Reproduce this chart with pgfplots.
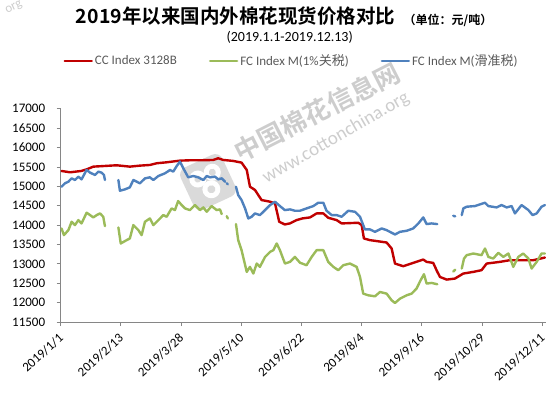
\documentclass[border=0pt]{standalone}
\usepackage{fontspec}
\setmainfont{Carlito}
\newfontfamily\cjk{Noto Sans CJK SC}
\newfontfamily\cjkb{Noto Sans CJK SC Bold}
\usepackage{pgfplots}
\pgfplotsset{compat=1.18}
\usepackage{pgfplotstable}
\definecolor{ccred}{RGB}{192,0,0}
\definecolor{fcgreen}{RGB}{155,187,89}
\definecolor{fcblue}{RGB}{79,129,189}
\definecolor{axgray}{RGB}{134,134,134}
\definecolor{legtext}{RGB}{89,89,89}
\definecolor{wm}{RGB}{205,205,205}
\definecolor{wmlogo}{RGB}{218,218,218}

\pgfplotstableread{
day val
0.6 15396
6.7 15362
14.7 15396
18.7 15440
23.3 15508
39.9 15543
44.9 15525
49.4 15508
56.6 15534
63.7 15551
68.6 15595
75.7 15620
85.2 15663
92.2 15672
99.3 15672
109.0 15680
112.5 15724
116.2 15680
123.3 15655
129.2 15612
132.9 15422
135.2 14991
138.8 14905
143.5 14646
149.6 14603
153.1 14560
156.1 14086
160.1 14017
163.7 14043
168.5 14129
172.7 14172
178.1 14198
182.8 14301
187.6 14301
191.1 14189
197.1 14129
200.7 14043
212.6 14060
215.0 14000
216.6 13655
220.9 13612
232.8 13551
236.4 13396
238.8 13008
244.7 12939
251.8 13025
259.0 13111
261.4 13051
266.1 13025
268.5 12836
270.9 12663
275.7 12594
281.6 12620
287.6 12750
294.7 12793
300.6 12836
304.3 13008
313.7 13051
320.9 13094
328.0 13094
337.6 13094
345.9 13163
}\redtab

\pgfplotstableread{
day val
0.6 14991
3.0 15077
5.5 15120
7.8 15206
10.2 15163
12.6 15250
14.9 15180
18.5 15422
21.0 15353
24.5 15293
26.9 15379
29.2 15353
30.9 15293
31.6 15163
35 nan
41.2 15163
42.3 14887
45.9 14922
49.4 14974
51.9 15163
54.3 15120
56.6 15077
60.2 15206
63.7 15232
66.2 15163
69.8 15267
74.5 15336
78.1 15422
80.4 15379
82.9 15525
85.2 15637
87.6 15465
91.1 15232
94.7 15267
98.2 15232
101.9 15163
104.3 15267
106.6 15232
110.2 15250
112.5 15180
115.0 15206
117.4 15120
118.0 nan
118.6 15080
119.4 15050
120 nan
125.2 14991
126.8 14775
129.2 14646
131.7 14430
134.0 14172
136.4 14215
138.8 14301
142.3 14258
146.0 14387
149.6 14517
153.1 14603
156.6 14491
160.1 14387
163.8 14405
167.3 14370
170.9 14370
175.6 14430
180.5 14491
184.0 14577
187.6 14577
189.9 14370
193.6 14258
197.1 14258
200.7 14215
205.4 14370
210.2 14344
213.8 14215
217.3 13888
220.9 13888
224.5 13827
229.3 13913
232.8 13870
238.8 13758
242.4 13827
247.1 13853
251.8 13913
255.5 14043
259.0 14198
261.4 14026
264.9 14043
269.0 14026
275 nan
280.4 14240
281.8 14225
283 nan
286.5 14258
287.6 14430
290.0 14474
295.9 14491
303.1 14577
305.5 14491
311.4 14456
314.9 14517
318.6 14456
322.1 14491
324.5 14301
329.2 14517
334.1 14387
337.1 14258
340.0 14301
343.5 14474
345.9 14517
}\bluetab

\pgfplotstableread{
day val
0.6 13913
2.3 13741
5.5 13870
7.8 14086
10.2 14000
12.6 14129
14.9 14043
18.5 14319
21.0 14258
23.3 14198
25.7 14258
28.1 14301
30.4 14215
31.6 13974
35 nan
41.2 13939
42.9 13526
47.1 13612
49.4 13655
51.9 14000
55.5 13870
57.8 13741
60.2 14086
63.7 14172
66.2 14000
69.8 14129
73.3 14258
75.7 14215
79.2 14430
81.6 14387
83.9 14620
86.4 14517
88.8 14430
92.3 14387
95.9 14517
99.5 14387
101.9 14456
104.3 14344
107.8 14491
111.4 14387
113.8 14405
115.0 14284
117 nan
118.6 14230
119.4 14170
120 nan
125.2 14026
126.8 13612
129.2 13353
132.9 12793
135.2 12922
137.6 12750
140.0 13008
142.3 12922
146.0 13180
149.6 13310
151.9 13353
154.3 13526
156.6 13353
160.2 13008
163.8 13051
167.3 13180
170.9 13030
175.6 12965
179.3 13180
182.8 13353
187.6 13353
191.1 13051
194.8 12922
198.3 12836
201.9 12965
206.6 13008
211.4 12922
213.8 12663
216.1 12232
219.7 12189
224.5 12163
228.1 12275
232.8 12232
236.4 12060
238.8 11991
242.4 12103
247.1 12189
250.7 12232
254.2 12362
257.1 12577
259.5 12732
261.4 12491
264.9 12508
269.0 12474
275 nan
280.4 12800
281.8 12850
283 nan
286.5 12879
288.1 13137
290.0 13224
294.7 13267
300.6 13224
303.1 13396
305.5 13180
309.0 13137
312.6 13284
316.2 13180
319.8 13267
323.3 12922
326.9 13180
330.4 13267
334.1 13137
336.4 12879
340.0 13051
343.5 13267
345.9 13267
}\greentab

\begin{document}
\begin{tikzpicture}
% watermark (behind the chart)
\begin{scope}[shift={(208pt,210pt)}, rotate=25]
  \fill[wmlogo, rounded corners=8pt] (-23pt,-23pt) rectangle (23pt,23pt);
  \fill[white] (-8pt,7pt) circle (8.5pt);
  \fill[white] (8pt,7pt) circle (8.5pt);
  \fill[white] (0pt,-8pt) circle (9pt);
  \fill[wmlogo] (-8pt,7pt) circle (3.5pt);
  \fill[wmlogo] (8pt,7pt) circle (3.5pt);
  \fill[wmlogo] (0pt,-8pt) circle (4pt);
\end{scope}
\node[rotate=27, text=wm, font=\cjkb\fontsize{26}{26}\selectfont] at (317pt,280pt) {中国棉花信息网};
\node[rotate=30, text=wm, font=\fontsize{19}{19}\selectfont] at (336pt,254pt) {www.cottonchina.org};
\node[rotate=25, text=wm, font=\fontsize{13}{13}\selectfont] at (14pt,384pt) {org};
\begin{axis}[
  at={(60.7pt,70pt)}, anchor=south west,
  scale only axis, width=485.2pt, height=213.2pt,
  xmin=0, xmax=346.6, ymin=11500, ymax=17000,
  scaled y ticks=false, scaled x ticks=false,
  axis x line=bottom, axis y line=left,
  axis line style={draw=axgray, line width=0.8pt, -},
  tick style={draw=axgray, line width=0.8pt},
  tick align=outside, major tick length=4pt,
  xtick={0,43,86,129,172,215,258,301,344},
  xticklabels={2019/1/1,2019/2/13,2019/3/28,2019/5/10,2019/6/22,2019/8/4,2019/9/16,2019/10/29,2019/12/11},
  xticklabel style={yshift=-8pt, xshift=3pt, rotate=42, anchor=east, font=\fontsize{13}{13}\selectfont, text=black},
  ytick={11500,12000,...,17000},
  yticklabel style={xshift=-8pt, font=\fontsize{13}{13}\selectfont, text=black, /pgf/number format/1000 sep={}, /pgf/number format/assume math mode=true},
  unbounded coords=jump,
  every axis plot/.append style={line width=2.4pt, line join=round, line cap=round, no markers},
  legend columns=3,
  legend style={at={(0.0054,1.224)}, anchor=west, draw=none, fill=none,
    font=\fontsize{13}{13}\selectfont, text=legtext, inner sep=0pt,
    /tikz/every even column/.append style={column sep=30pt}},
  legend image code/.code={\draw[#1] (0pt,0pt) -- (27pt,0pt);},
]
\addplot[color=ccred] table[x=day, y=val] {\redtab};
\addlegendentry{CC Index 3128B}
\addplot[color=fcgreen] table[x=day, y=val] {\greentab};
\addlegendentry{FC Index M(1\%{\cjk 关税})}
\addplot[color=fcblue] table[x=day, y=val] {\bluetab};
\addlegendentry{FC Index M({\cjk 滑准税})}
\end{axis}
\node[font=\cjkb\fontsize{19.5}{21}\selectfont] at (235.5pt,375.5pt) {2019年以来国内外棉花现货价格对比};
\node[font=\cjkb\fontsize{12}{14}\selectfont] at (448pt,372pt) {（单位：元/吨）};
\node[font=\fontsize{14}{16}\selectfont] at (289.7pt,355pt) {(2019.1.1-2019.12.13)};
\pgfresetboundingbox
\path[use as bounding box] (0pt,0pt) rectangle (558pt,392pt);
\end{tikzpicture}
\end{document}
